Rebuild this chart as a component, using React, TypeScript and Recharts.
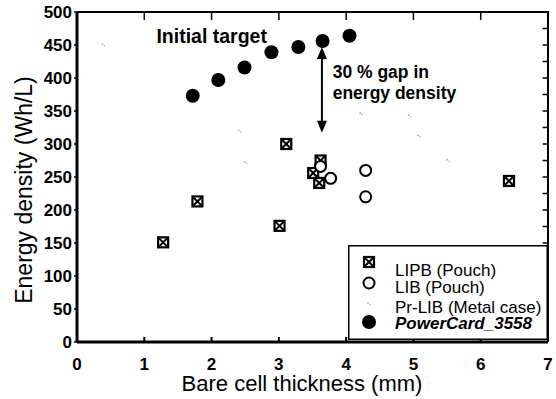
import React from "react";
import {
  ScatterChart,
  Scatter,
  XAxis,
  YAxis,
  Legend,
  CartesianGrid,
  ReferenceLine,
  ReferenceDot,
  Label,
} from "recharts";

// LIPB (Pouch)
const lipbX = [1.28, 1.79, 3.01, 3.11, 3.51, 3.6, 3.62, 6.42];
const lipbY = [151, 213, 176, 300, 256, 241, 275, 244];
// LIB (Pouch)
const libX = [3.62, 3.77, 4.29, 4.29];
const libY = [266, 248, 260, 220];
// Pr-LIB (Metal case)
const prlibX = [0.38, 2.4, 2.49, 4.21, 4.93, 5.07, 5.5];
const prlibY = [451, 321, 273, 347, 344, 313, 276];
// PowerCard_3558
const pcX = [1.72, 2.1, 2.49, 2.89, 3.29, 3.65, 4.05];
const pcY = [373, 397, 416, 439, 447, 456, 464];

const xTicks = [0, 1, 2, 3, 4, 5, 6, 7];
const yTicks = [0, 50, 100, 150, 200, 250, 300, 350, 400, 450, 500];
const yMinorTicks = [25, 50, 75, 100, 125, 150, 175, 200, 225, 250, 275, 300, 325, 350, 375, 400, 425, 450, 475];

const zip = (xs: number[], ys: number[]) => xs.map((x, i) => ({ x, y: ys[i] }));

const FONT = "'Liberation Sans', Arial, sans-serif";

const SquareX = ({ cx, cy }: any) => (
  <g>
    <rect x={cx - 5} y={cy - 5} width={10} height={10} fill="#fff" stroke="#000" strokeWidth={2.2} />
    <line x1={cx - 4} y1={cy - 4} x2={cx + 4} y2={cy + 4} stroke="#000" strokeWidth={2} />
    <line x1={cx - 4} y1={cy + 4} x2={cx + 4} y2={cy - 4} stroke="#000" strokeWidth={2} />
  </g>
);
const OpenCircle = ({ cx, cy }: any) => (
  <circle cx={cx} cy={cy} r={5.5} fill="#fff" stroke="#000" strokeWidth={2} />
);
const Speck = ({ cx, cy }: any) => (
  <g fill="#b5b5b5">
    <circle cx={cx} cy={cy} r={1} />
    <circle cx={cx + 2} cy={cy + 1.5} r={0.8} />
  </g>
);
const FilledCircle = ({ cx, cy }: any) => <circle cx={cx} cy={cy} r={7} fill="#000" />;

const ArrowUp = ({ cx, cy }: any) => (
  <path d={`M${cx},${cy} L${cx - 5},${cy + 12} L${cx + 5},${cy + 12} Z`} fill="#000" />
);
const ArrowDown = ({ cx, cy }: any) => (
  <path d={`M${cx},${cy} L${cx - 5},${cy - 12} L${cx + 5},${cy - 12} Z`} fill="#000" />
);
const textShape = (s: string, size: number) => ({ cx, cy }: any) => (
  <text x={cx} y={cy} fontFamily={FONT} fontWeight="bold" fontSize={size} fill="#000">
    {s}
  </text>
);

const LegendBox = () => (
  <svg width={200} height={95} style={{ display: "block" }}>
    <rect x={0.75} y={0.75} width={198.5} height={93.5} fill="#fff" stroke="#000" strokeWidth={1.5} />
    <SquareX cx={21} cy={17} />
    <OpenCircle cx={21} cy={38} />
    <Speck cx={20} cy={58} />
    <FilledCircle cx={21} cy={77} />
    <g fontFamily={FONT} fontSize={17} fill="#000">
      <text x={47} y={31}>LIPB (Pouch)</text>
      <text x={47} y={48}>LIB (Pouch)</text>
      <text x={47} y={68}>Pr-LIB (Metal case)</text>
      <text x={47} y={84} fontWeight="bold" fontStyle="italic">PowerCard_3558</text>
    </g>
  </svg>
);

export default function App() {
  return (
    <div style={{ position: "absolute", left: 0, top: 0, width: 556, height: 399, background: "#fff" }}>
      <ScatterChart width={556} height={399} margin={{ top: 12, right: 8, bottom: 7, left: 0 }}>
        {/* top and right frame edges */}
        <CartesianGrid
          horizontalValues={[500]}
          verticalValues={[7]}
          stroke="#000"
          strokeWidth={2}
          strokeOpacity={1}
        />
        <XAxis
          type="number"
          dataKey="x"
          domain={[0, 7]}
          ticks={xTicks}
          interval={0}
          height={50}
          axisLine={{ stroke: "#000", strokeWidth: 3 }}
          tickLine={{ stroke: "#000", strokeWidth: 2 }}
          tickSize={-5}
          tickMargin={21}
          tick={{ fill: "#000", fontSize: 17, fontWeight: "bold", fontFamily: FONT }}
        >
          <Label
            content={() => (
              <text x={302} y={391} textAnchor="middle" fontFamily={FONT} fontSize={22} fill="#000">
                Bare cell thickness (mm)
              </text>
            )}
          />
        </XAxis>
        <YAxis
          type="number"
          dataKey="y"
          domain={[0, 500]}
          ticks={yTicks}
          interval={0}
          width={77}
          axisLine={{ stroke: "#000", strokeWidth: 3 }}
          tickLine={{ stroke: "#000", strokeWidth: 1.5 }}
          tickSize={3}
          tickMargin={2}
          tick={{ fill: "#000", fontSize: 17, fontWeight: "bold", fontFamily: FONT }}
        >
          <Label
            content={() => (
              <text
                x={32}
                y={190}
                transform="rotate(-90 32 190)"
                textAnchor="middle"
                fontFamily={FONT}
                fontSize={23}
                fill="#000"
              >
                Energy density (Wh/L)
              </text>
            )}
          />
        </YAxis>

        <Scatter name="Pr-LIB (Metal case)" data={zip(prlibX, prlibY)} shape={<Speck />} isAnimationActive={false} />
        <Scatter name="LIPB (Pouch)" data={zip(lipbX, lipbY)} shape={<SquareX />} isAnimationActive={false} />
        <Scatter name="LIB (Pouch)" data={zip(libX, libY)} shape={<OpenCircle />} isAnimationActive={false} />
        <Scatter name="PowerCard_3558" data={zip(pcX, pcY)} shape={<FilledCircle />} isAnimationActive={false} />

        <ReferenceLine y={500} stroke="#000" strokeWidth={2} ifOverflow="visible" />
        <ReferenceLine x={7} stroke="#000" strokeWidth={2} ifOverflow="visible" />

        {/* inward ticks on the top and right frame edges */}
        {xTicks.slice(1, -1).map((t) => (
          <ReferenceLine
            key={`tt${t}`}
            segment={[
              { x: t, y: 499.5 },
              { x: t, y: 488 },
            ]}
            stroke="#000"
            strokeWidth={1.5}
          />
        ))}
        {yMinorTicks.map((t) => (
          <ReferenceLine
            key={`rt${t}`}
            segment={[
              { x: 6.92, y: t },
              { x: 6.995, y: t },
            ]}
            stroke="#000"
            strokeWidth={1.5}
          />
        ))}

        <ReferenceLine
          segment={[
            { x: 3.64, y: 438 },
            { x: 3.64, y: 326 },
          ]}
          stroke="#000"
          strokeWidth={2}
        />
        <ReferenceDot x={3.64} y={447} shape={<ArrowUp />} />
        <ReferenceDot x={3.64} y={317} shape={<ArrowDown />} />
        <ReferenceDot x={1.18} y={453} shape={textShape("Initial target", 19.5)} />
        <ReferenceDot x={3.8} y={400} shape={textShape("30 % gap in", 17.5)} />
        <ReferenceDot x={3.8} y={368} shape={textShape("energy density", 17.5)} />
        <Legend
          layout="horizontal"
          verticalAlign="middle"
          align="center"
          content={() => <LegendBox />}
          wrapperStyle={{ left: 348, top: 245, width: 200, height: 95 }}
        />
      </ScatterChart>
      {/* top and right edges of the plot frame */}
      <div
        style={{
          position: "absolute",
          left: 77,
          top: 11,
          width: 472,
          height: 331,
          borderTop: "2px solid #000",
          borderRight: "2px solid #000",
          boxSizing: "border-box",
          pointerEvents: "none",
        }}
      />
    </div>
  );
}
